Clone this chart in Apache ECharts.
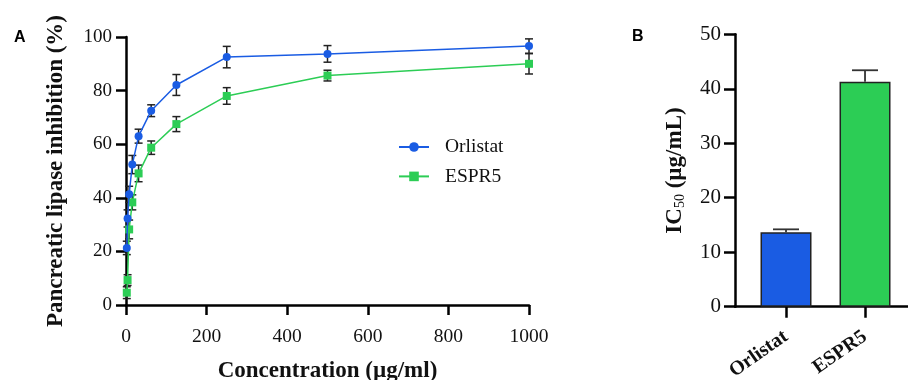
<!DOCTYPE html>
<html>
<head>
<meta charset="utf-8">
<script src="https://cdn.jsdelivr.net/npm/echarts@6/dist/echarts.min.js"></script>
<style>
  html, body { margin: 0; padding: 0; background: #fff; }
  #chart { width: 908px; height: 380px; }
</style>
</head>
<body>
<div id="chart"></div>
<script>
// Inhibition curves (panel A)
const concentrations = [1.95, 3.9, 7.8, 15.6, 31.25, 62.5, 125, 250, 500, 1000];
const orlistatInhibition = [21.3, 32.3, 41.3, 52.4, 63.0, 72.5, 82.1, 92.5, 93.7, 96.6];
const orlistatSd = [2.5, 3.2, 3.0, 3.4, 2.6, 2.2, 3.9, 4.0, 3.1, 2.7];
const espr5Inhibition = [4.6, 9.3, 28.2, 38.3, 49.1, 58.7, 67.5, 78.0, 85.6, 90.0];
const espr5Sd = [2.2, 2.0, 3.5, 2.8, 3.1, 2.5, 2.8, 3.1, 2.0, 3.8];

// IC50 values (panel B)
const ic50Categories = ['Orlistat', 'ESPR5'];
const ic50Values = [13.65, 41.3];
const ic50Sd = [0.55, 2.1];

const BLUE = '#1a5ce3';
const GREEN = '#2ccd55';
const SERIF = '"Liberation Serif", "Times New Roman", serif';

function pairs(xs, ys) { return xs.map((x, i) => [x, ys[i]]); }
function errPairs(xs, ys, sd) { return xs.map((x, i) => [x, ys[i], sd[i]]); }

// symmetric error bars with caps
function errorBarRender(params, api) {
  const x = api.value(0), y = api.value(1), e = api.value(2);
  const hi = api.coord([x, y + e]);
  const lo = api.coord([x, y - e]);
  const half = 4;
  const style = { stroke: '#222', lineWidth: 1.5, fill: null };
  return {
    type: 'group',
    children: [
      { type: 'line', shape: { x1: hi[0], y1: hi[1], x2: lo[0], y2: lo[1] }, style },
      { type: 'line', shape: { x1: hi[0] - half, y1: hi[1], x2: hi[0] + half, y2: hi[1] }, style },
      { type: 'line', shape: { x1: lo[0] - half, y1: lo[1], x2: lo[0] + half, y2: lo[1] }, style }
    ]
  };
}

// upper-only error bar on top of a column
function upperErrorRender(params, api) {
  const x = api.value(0), y = api.value(1), e = api.value(2);
  const top = api.coord([x, y]);
  const hi = api.coord([x, y + e]);
  const half = 13;
  const style = { stroke: '#333', lineWidth: 1.8, fill: null };
  return {
    type: 'group',
    children: [
      { type: 'line', shape: { x1: top[0], y1: top[1], x2: hi[0], y2: hi[1] }, style },
      { type: 'line', shape: { x1: hi[0] - half, y1: hi[1], x2: hi[0] + half, y2: hi[1] }, style }
    ]
  };
}

const catPositions = ic50Categories.map((_, i) => i + 1);

const axisLineStyle = { color: '#000', width: 2.5 };
const panelLabel = { fontFamily: '"Liberation Sans", Arial, sans-serif', fontWeight: 'bold', fontSize: 16, color: '#000' };

const option = {
  animation: false,
  backgroundColor: '#fff',
  title: [
    { text: 'A', left: 9, top: 25, textStyle: panelLabel },
    { text: 'B', left: 627, top: 24, textStyle: panelLabel }
  ],
  legend: {
    left: 398, top: 137, orient: 'vertical', padding: 0,
    itemWidth: 30, itemHeight: 12, itemGap: 9.4,
    data: ['Orlistat', 'ESPR5'],
    textStyle: { fontFamily: SERIF, fontSize: 19.5, color: '#111', padding: [0, 0, 0, 11] }
  },
  grid: [
    { left: 126, top: 37, width: 403, height: 268, outerBoundsMode: 'none' },
    { left: 735, top: 34.3, width: 173, height: 272.4, outerBoundsMode: 'none' }
  ],
  xAxis: [
    {
      gridIndex: 0, type: 'value', min: 0, max: 1000, interval: 200,
      name: 'Concentration (µg/ml)', nameLocation: 'middle', nameGap: 55,
      nameTextStyle: { fontFamily: SERIF, fontWeight: 'bold', fontSize: 23, color: '#111' },
      axisLine: { lineStyle: axisLineStyle },
      axisTick: { length: 10, lineStyle: { color: '#000', width: 2.5 } },
      axisLabel: { fontFamily: SERIF, fontSize: 19.5, color: '#111', margin: 22, formatter: v => String(v) },
      splitLine: { show: false }
    },
    {
      gridIndex: 1, type: 'value', min: 0.3544, max: 2.544,
      axisLine: { lineStyle: axisLineStyle },
      axisTick: { length: 11, customValues: catPositions, lineStyle: { color: '#000', width: 2.5 } },
      axisLabel: {
        customValues: catPositions, rotate: 35, margin: 28,
        fontFamily: SERIF, fontWeight: 'bold', fontSize: 20, color: '#111',
        formatter: v => ic50Categories[Math.round(v) - 1] || ''
      },
      splitLine: { show: false }
    }
  ],
  yAxis: [
    {
      gridIndex: 0, type: 'value', min: 0, max: 100, interval: 20,
      name: 'Pancreatic lipase inhibition (%)', nameLocation: 'middle', nameGap: 58,
      nameTextStyle: { fontFamily: SERIF, fontWeight: 'bold', fontSize: 23, color: '#111' },
      axisLine: { show: true, lineStyle: axisLineStyle },
      axisTick: { show: true, length: 10, lineStyle: { color: '#000', width: 2.5 } },
      axisLabel: { fontFamily: SERIF, fontSize: 19, color: '#111', margin: 14 },
      splitLine: { show: false }
    },
    {
      gridIndex: 1, type: 'value', min: 0, max: 50, interval: 10,
      name: '{b|IC}{s|50}{b| (µg/mL)}', nameLocation: 'middle', nameGap: 48,
      nameTextStyle: {
        color: '#111',
        rich: {
          b: { fontFamily: SERIF, fontWeight: 'bold', fontSize: 23, lineHeight: 26, verticalAlign: 'bottom', color: '#111' },
          s: { fontFamily: SERIF, fontSize: 14, lineHeight: 14, verticalAlign: 'bottom', color: '#111' }
        }
      },
      axisLine: { show: true, lineStyle: axisLineStyle },
      axisTick: { show: true, length: 11, lineStyle: { color: '#000', width: 2.5 } },
      axisLabel: { fontFamily: SERIF, fontSize: 21, color: '#111', margin: 14 },
      splitLine: { show: false }
    }
  ],
  series: [
    {
      type: 'custom', name: 'orlistat-err', xAxisIndex: 0, yAxisIndex: 0, z: 1,
      renderItem: errorBarRender, data: errPairs(concentrations, orlistatInhibition, orlistatSd)
    },
    {
      type: 'custom', name: 'espr5-err', xAxisIndex: 0, yAxisIndex: 0, z: 1,
      renderItem: errorBarRender, data: errPairs(concentrations, espr5Inhibition, espr5Sd)
    },
    {
      type: 'line', name: 'ESPR5', xAxisIndex: 0, yAxisIndex: 0, z: 3,
      data: pairs(concentrations, espr5Inhibition),
      symbol: 'rect', symbolSize: 8,
      lineStyle: { color: GREEN, width: 1.5 },
      itemStyle: { color: GREEN }
    },
    {
      type: 'line', name: 'Orlistat', xAxisIndex: 0, yAxisIndex: 0, z: 4,
      data: pairs(concentrations, orlistatInhibition),
      symbol: 'circle', symbolSize: 8,
      lineStyle: { color: BLUE, width: 1.5 },
      itemStyle: { color: BLUE }
    },
    {
      type: 'bar', name: 'IC50', xAxisIndex: 1, yAxisIndex: 1, barWidth: 51, z: 2,
      data: ic50Values.map((v, i) => ({
        value: [catPositions[i], v],
        itemStyle: { color: i === 0 ? BLUE : GREEN, borderColor: '#222', borderWidth: 1.5 }
      }))
    },
    {
      type: 'custom', name: 'ic50-err', xAxisIndex: 1, yAxisIndex: 1, z: 3,
      renderItem: upperErrorRender,
      data: ic50Values.map((v, i) => [catPositions[i], v, ic50Sd[i]])
    }
  ]
};

const chart = echarts.init(document.getElementById('chart'), null, { renderer: 'canvas' });
chart.setOption(option);
</script>
</body>
</html>
